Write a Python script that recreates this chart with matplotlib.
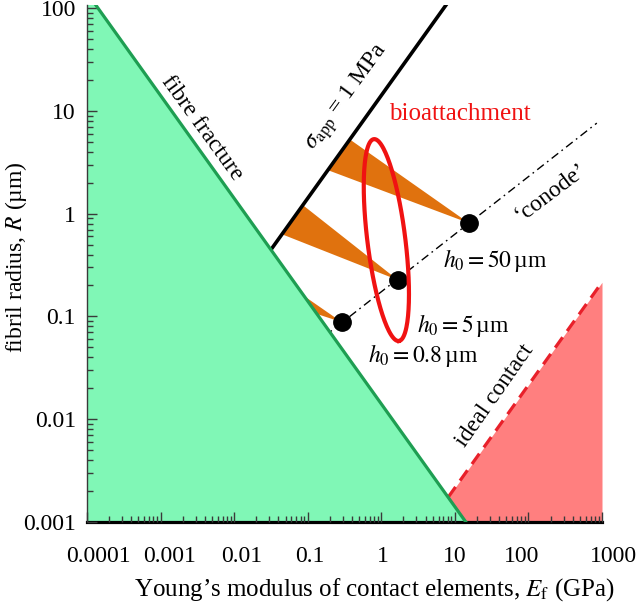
import numpy as np
import matplotlib
matplotlib.use("Agg")
import matplotlib.pyplot as plt
from matplotlib.transforms import ScaledTranslation

plt.rcParams['font.family'] = ['Liberation Serif', 'DejaVu Serif']
plt.rcParams['mathtext.fontset'] = 'stix'

# --- data (E in GPa, R in um) ---
frac_E = [1e-4, 14.1]          # fibre fracture limit
frac_R = [141.0, 1e-3]
sigma_E = [0.02, 8.0]          # sigma_app = 1 MPa
sigma_R = [0.282, 113.0]
conode_E = [0.15, 850.0]
conode_R = [0.060, 7.6]
ideal_E = [8.1, 1000.0]        # ideal contact limit
ideal_R = [1.74e-3, 0.215]

h_E = [0.29, 1.68, 15.5]
h_R = [0.088, 0.226, 0.81]
h_labels = [r'$h_0 = 0.8\,$µm', r'$h_0 = 5\,$µm', r'$h_0 = 50\,$µm']
h_text_E = [0.66, 3.05, 6.87]
h_text_R = [0.042, 0.082, 0.354]

# orange wedges: base on the sigma line -> apex at the h0 points
wedge_E = [(0.188, 0.374), (0.0447, 0.086), (0.013, 0.0223)]
wedge_R = [(2.65, 5.27), (0.63, 1.21), (0.183, 0.314)]
wedge_apex = [2, 1, 0]

# bioattachment ellipse (log10 space)
ell_center = (0.069, -0.257)
ell_major = (0.170, -0.982)
ell_minor = (0.256, 0.0227)

xticks = [1e-4, 1e-3, 1e-2, 1e-1, 1, 10, 100, 1000]
xticklabels = ['0.0001', '0.001', '0.01', '0.1', '1', '10', '100', '1000']
xlabel_shift = [11, 9, 8, 2, 2, 0, -7, 11]   # px, labels sit off their ticks
yticks = [1e-3, 1e-2, 1e-1, 1, 10, 100]
yticklabels = ['0.001', '0.01', '0.1', '1', '10', '100']

fig = plt.figure(figsize=(6.42, 6.08), dpi=100)
ax = fig.add_axes([87/642, 1 - 522/608, 515/642, 517/608])
ax.set_xscale('log')
ax.set_yscale('log')
ax.set_xlim(1e-4, 1e3)
ax.set_ylim(1e-3, 10**2.03)

green_fill = '#80F7B6'
green_line = '#1E9E52'
orange = '#E0720E'
red = '#F01212'

# ideal contact region (pink), under the green one
ax.fill_between(ideal_E, 1e-3, ideal_R, color='#FF7F7F', lw=0, zorder=0.5)
ax.plot(ideal_E, ideal_R, color='#E8202A', lw=2.3, ls=(0, (4, 2.4)), zorder=1.2)

# wedges and sigma line go below the green region
for (e1, e2), (r1, r2), k in zip(wedge_E, wedge_R, wedge_apex):
    ax.fill([e1, e2, h_E[k]], [r1, r2, h_R[k]], color=orange, lw=0, zorder=0.8)
ax.plot(sigma_E, sigma_R, color='black', lw=2.6, zorder=0.9, solid_capstyle='butt')
ax.plot(conode_E, conode_R, color='black', lw=1.0, ls=(0, (6, 3, 1.2, 3)), zorder=0.9)

# fibre fracture region
ax.fill_between(frac_E, 1e-3, frac_R, color=green_fill, lw=0, zorder=1)
ax.plot(frac_E, frac_R, color=green_line, lw=2.3, zorder=3)

ax.plot(h_E, h_R, 'o', color='black', ms=12.5, zorder=4)

t = np.linspace(0, 2 * np.pi, 200)
lx = ell_center[0] + np.cos(t) * ell_major[0] + np.sin(t) * ell_minor[0]
ly = ell_center[1] + np.cos(t) * ell_major[1] + np.sin(t) * ell_minor[1]
ax.plot(10**lx, 10**ly, color=red, lw=3.0, zorder=5)

# text
ax.text(0.0036, 6.8, 'fibre fracture', rotation=-54, fontsize=17,
        ha='center', va='center')
ax.text(0.34, 13.6, r'$\sigma_{\rm app}$ = 1 MPa', rotation=54, fontsize=17,
        ha='center', va='center')
ax.text(11.7, 9.3, 'bioattachment', color=red, fontsize=18,
        ha='center', va='center')
ax.text(201, 1.62, '‘conode’', rotation=37, fontsize=17,
        ha='center', va='center')
for xe, yr, lab in zip(h_text_E, h_text_R, h_labels):
    ax.text(xe, yr, lab, fontsize=17, ha='left', va='center')
ax.text(34.9, 0.0168, 'ideal contact', rotation=55, fontsize=17,
        ha='center', va='center')

# axes styling
for s in ['top', 'right']:
    ax.spines[s].set_visible(False)
ax.spines['bottom'].set_color('black')
ax.spines['bottom'].set_linewidth(2.3)
ax.spines['left'].set_color('#3a3a3a')
ax.spines['left'].set_linewidth(1.0)
ax.set_axisbelow(False)

ax.set_xticks(xticks)
ax.set_xticklabels(xticklabels)
ax.set_yticks(yticks)
ax.set_yticklabels(yticklabels)
ax.tick_params(which='both', direction='in', top=False, right=False,
               colors='#3a3a3a', labelcolor='black', labelsize=17)
ax.tick_params(which='major', length=7, width=1.0)
ax.tick_params(which='minor', length=4, width=1.0)
ax.tick_params(axis='x', pad=17)
ax.tick_params(axis='y', pad=8)

for lab, dx in zip(ax.get_xticklabels(), xlabel_shift):
    lab.set_transform(lab.get_transform() + ScaledTranslation(dx/100, 0, fig.dpi_scale_trans))

ax.set_xlabel('Young’s modulus of contact elements, $E_{\\rm f}$ (GPa)', fontsize=18)
ax.xaxis.set_label_coords(0.557, -0.104)
ax.set_ylabel('fibril radius, $R$ (µm)', fontsize=17)
ax.yaxis.set_label_coords(-0.113, 0.513)

fig.savefig('out.png', dpi=100)
